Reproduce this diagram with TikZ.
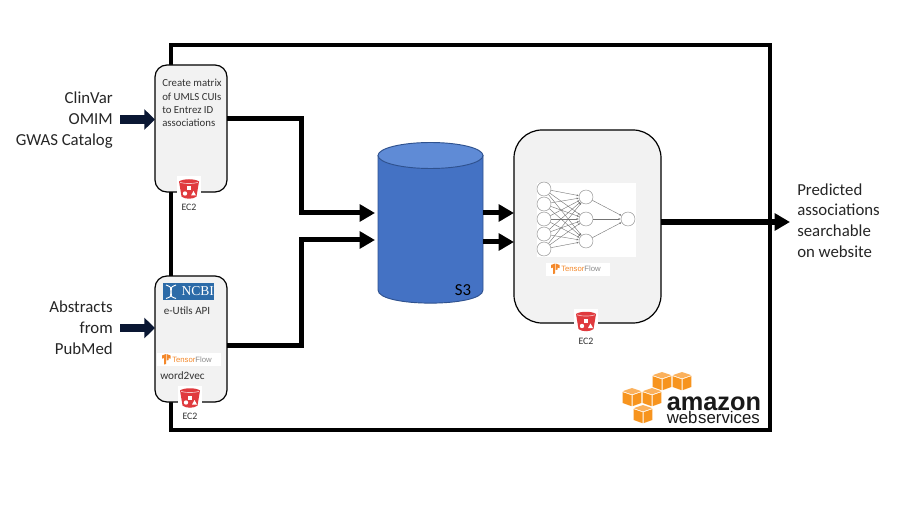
\documentclass[tikz,border=0pt]{standalone}
\usepackage{fontspec}
\setmainfont{Carlito}
\newfontfamily\awsfont{Liberation Sans}
\newfontfamily\ncbifont{Liberation Serif}
\usetikzlibrary{arrows.meta}
\definecolor{panel}{HTML}{F2F2F2}
\definecolor{navy}{HTML}{0A1733}
\definecolor{sthree}{HTML}{4472C4}
\definecolor{sthreetop}{HTML}{5F8BD6}
\definecolor{sthreeline}{HTML}{2F528F}
\definecolor{bucketred}{HTML}{E03A3E}
\definecolor{awsorange}{HTML}{F7941E}
\definecolor{awslight}{HTML}{FBB15C}
\definecolor{tforange}{HTML}{F4882A}
\definecolor{ncbiblue}{HTML}{2C6BA8}
\tikzset{
  x=0.75pt,y=-0.75pt,
  panelbox/.style={draw=black,fill=panel,line width=0.9pt,rounded corners=#1,inner sep=0pt},
  conn/.style={draw=black,line width=3.75pt,miter limit=10,-{Triangle[length=11.5pt,width=12.5pt]}},
  feed/.style={draw=navy,line width=6.5pt,-{Triangle[length=8pt,width=15pt]}},
  label/.style={font=\fontsize{12.6}{15.6}\selectfont,text=black!85,inner sep=0pt},
  small/.style={font=\fontsize{7.4}{8}\selectfont,text=black!80,inner sep=0pt},
  neuron/.style={circle,draw=black!45,fill=white,line width=0.35pt,minimum size=10.5pt,inner sep=0pt},
  syn/.style={draw=black!55,line width=0.3pt,-{Latex[length=1.6pt,width=1.4pt]}},
  pics/bucket/.style={code={
    \fill[white] (-12,-12) rectangle (12,12);
    \fill[bucketred] (-10,-7) .. controls (-6,-10) and (6,-10) .. (10,-7) -- (7.5,8) .. controls (4,11) and (-4,11) .. (-7.5,8) -- cycle;
    \draw[white!70!bucketred,line width=0.5pt] (-9,-6.2) .. controls (-5,-4.5) and (5,-4.5) .. (9,-6.2);
    \fill[white] (-2,-2) rectangle (2,2);
    \fill[white] (-4,5) circle[radius=2.2];
    \fill[white] (2,7) -- (7,7) -- (4.5,2.5) -- cycle;
  }},
  pics/awscube/.style={code={
    \fill[awslight] (0,-9) -- (9.3,-5.8) -- (0,-2.6) -- (-9.3,-5.8) -- cycle;
    \fill[awsorange] (-9.3,-4.8) -- (-0.5,-1.8) -- (-0.5,9.2) -- (-9.3,6) -- cycle;
    \fill[awsorange] (9.3,-4.8) -- (0.5,-1.8) -- (0.5,9.2) -- (9.3,6) -- cycle;
  }},
  pics/tflogo/.style={code={
    \fill[white] (-32,-6.5) rectangle (32,6.5);
    \fill[tforange] (-27,-4) -- (-23,-5.5) -- (-23,4.5) -- (-25,5) -- (-25,-1.5) -- (-27,-0.8) -- cycle;
    \fill[tforange] (-22.5,-5.5) -- (-18.5,-4) -- (-18.5,-0.8) -- (-20.5,-1.5) -- (-20.5,0.5) -- (-22.5,1) -- cycle;
    \node[anchor=west,inner sep=0pt,font=\awsfont\fontsize{5.8}{7}\selectfont] at (-17,0) {\textcolor{tforange}{Tensor}\textcolor{black!45}{Flow}};
  }}
}
\begin{document}
\begin{tikzpicture}
\useasboundingbox (0,0) rectangle (900,506);
\fill[white] (0,0) rectangle (900,506);
% outer frame
\node[draw=black,line width=2.4pt,minimum width=449.25pt,minimum height=288.75pt,inner sep=0pt] (aws) at (470.5,237.5) {};
% panels
\node[panelbox=9pt,minimum width=54pt,minimum height=95.25pt] (box1) at (191,128.5) {};
\node[panelbox=9pt,minimum width=54pt,minimum height=94.5pt] (box2) at (191,339) {};
\node[panelbox=21pt,minimum width=110.25pt,minimum height=144.75pt] (box3) at (587.5,226.5) {};
% S3
\draw[sthreeline,line width=0.7pt,fill=sthree] (378,155.5) -- (378,290) .. controls (378,307.5) and (483,307.5) .. (483,290) -- (483,155.5) -- cycle;
\draw[sthreeline,line width=0.7pt,fill=sthreetop] (430.5,155.5) ellipse[x radius=52.5,y radius=13];
\node[label,text=black] (s3label) at (463,290) {S3};
% coordinates for connector ends
\coordinate (a1) at (375,213);
\coordinate (a2) at (375,240);
\coordinate (b1) at (227,119);
\coordinate (b2) at (227,345);
\coordinate (m1) at (301,213);
\coordinate (m2) at (301,240);
\coordinate (c1) at (483,213);
\coordinate (c2) at (483,242);
\coordinate (d1) at (514,213);
\coordinate (d2) at (514,242);
\coordinate (e1) at (661,222);
\coordinate (e2) at (790,222);
\coordinate (f1) at (120,119.5);
\coordinate (f2) at (155,119.5);
\coordinate (g1) at (120,328);
\coordinate (g2) at (155,328);
% connectors
\draw[conn] (b1) -| (m1) -- (a1);
\draw[conn] (b2) -| (m2) -- (a2);
\draw[conn] (c1) -- (d1);
\draw[conn] (c2) -- (d2);
\draw[conn,line width=5pt] (e1) -- (e2);
\draw[feed] (f1) -- (f2);
\draw[feed] (g1) -- (g2);
% outside labels
\node[label,align=right,anchor=east] (inputs1) at (113,120) {ClinVar\\OMIM\\GWAS Catalog};
\node[label,align=right,anchor=east] (inputs2) at (113,327.5) {Abstracts\\from\\PubMed};
\node[label,align=left,anchor=west] (outputs) at (797,220.5) {Predicted\\associations\\searchable\\on website};
% box 1
\node[small,font=\fontsize{8.1}{10}\selectfont,align=left,anchor=west] (matrix) at (162,103) {Create matrix\\of UMLS CUIs\\to Entrez ID\\associations};
\pic at (189,188.5) {bucket};
\node[small] (ec1) at (189,207) {EC2};
% box 2
\node[fill=ncbiblue,minimum width=38.25pt,minimum height=12.75pt,inner sep=0pt] (ncbi) at (188.5,291.5) {};
\node[anchor=east,text=white,inner sep=0pt,font=\ncbifont\fontsize{10.2}{11}\selectfont] (ncbit) at (ncbi.east) {NCBI};
\draw[white,line width=0.7pt] (166,285) .. controls (180,290) and (162,294) .. (176,298.5);
\draw[white,line width=0.7pt] (176,285) .. controls (162,290) and (180,294) .. (166,298.5);
\node[small,font=\fontsize{8.3}{9}\selectfont] (eutils) at (187,311) {e-Utils API};
\pic at (189,359.5) {tflogo};
\node[small,font=\fontsize{8.4}{9}\selectfont,anchor=west] (w2v) at (160,376) {word2vec};
\pic at (190,397.5) {bucket};
\node[small] (ec2b) at (190,416) {EC2};
% box 3 network
\node[fill=white,minimum width=74.25pt,minimum height=55.5pt,inner sep=0pt] (netbg) at (586.5,220) {};
\foreach \n/\y in {1/189,2/204,3/219,4/234,5/249}{ \node[neuron] (i\n) at (544,\y) {}; }
\foreach \n/\y in {1/197,2/219,3/241}{ \node[neuron] (h\n) at (586,\y) {}; }
\node[neuron] (o1) at (628,219) {};
\foreach \a in {1,...,5}{ \foreach \b in {1,2,3}{ \draw[syn] (i\a) -- (h\b); } }
\foreach \b in {1,2,3}{ \draw[syn] (h\b) -- (o1); }
\pic at (578,269) {tflogo};
\pic at (586,321) {bucket};
\node[small] (ec3) at (586,341) {EC2};
% AWS logo
\pic at (662,381) {awscube};
\pic at (682,381) {awscube};
\pic at (632,397) {awscube};
\pic at (652,397) {awscube};
\pic at (643,414) {awscube};
\node[anchor=south west,inner sep=0pt,align=left,text=black!90,font=\awsfont] (amazon) at (666.5,424) {{\bfseries\fontsize{19}{20}\selectfont amazon}\\[-1.9pt]{\fontsize{12.6}{13}\selectfont web\kern0.5pt services}};
\end{tikzpicture}
\end{document}
